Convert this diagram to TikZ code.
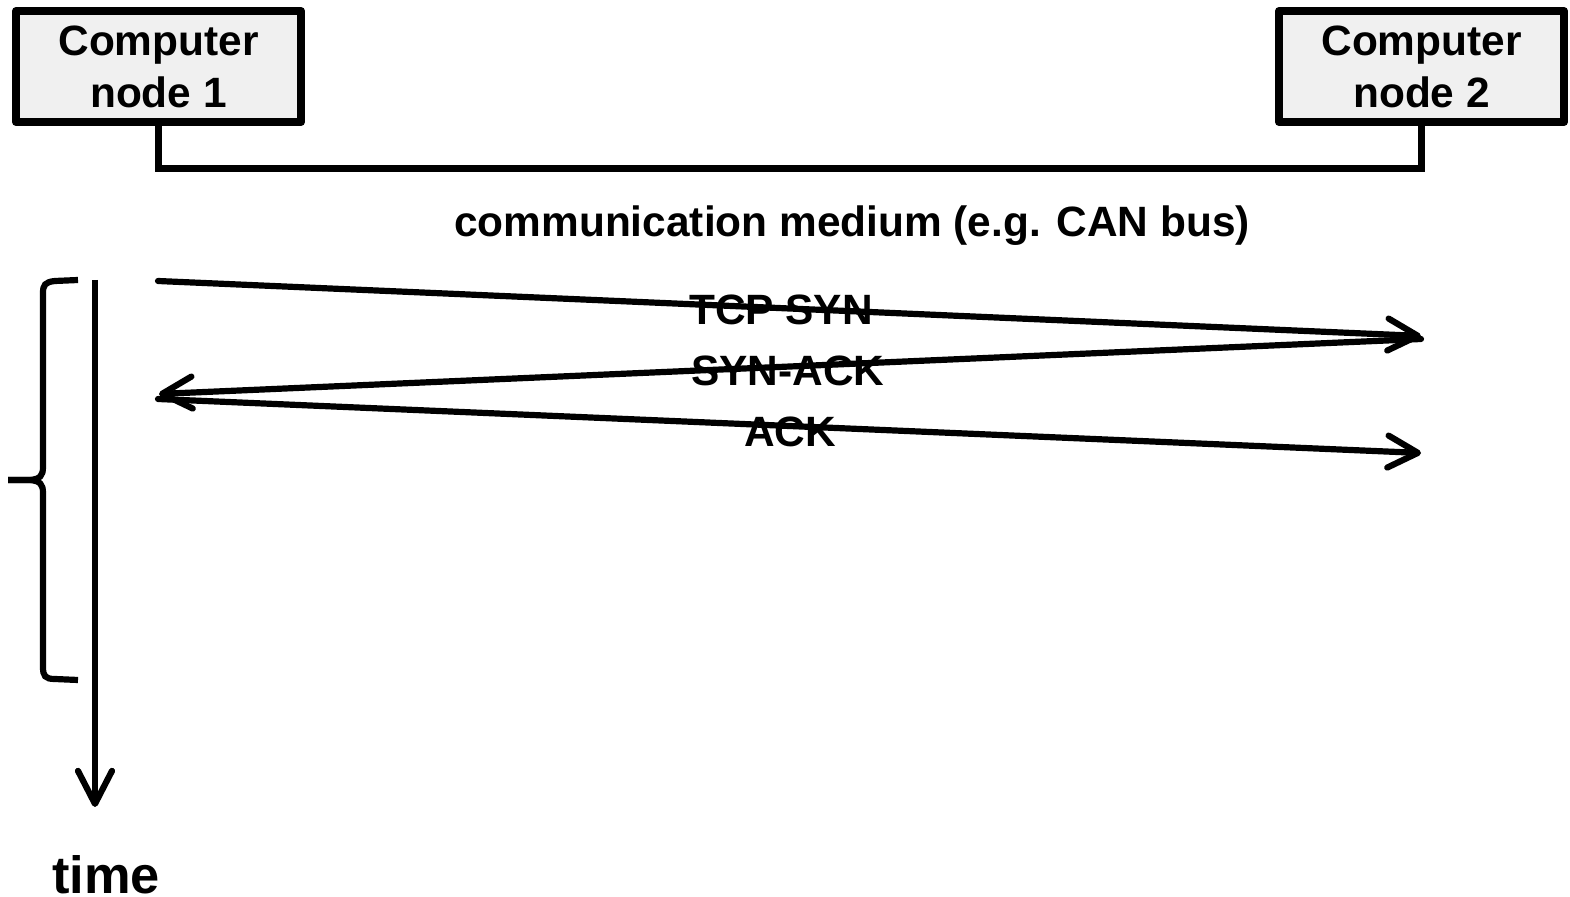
\documentclass[tikz,border=0pt]{standalone}
\usepackage{fontspec}
\setmainfont{Liberation Sans}
\usetikzlibrary{arrows.meta}
\definecolor{boxfill}{HTML}{F0F0F0}
\begin{document}
\begin{tikzpicture}[x=0.5pt,y=-0.5pt,
  line width=3.1pt,
  compbox/.style={draw, fill=boxfill, line width=4pt, line join=round, minimum width=142.5pt, minimum height=55.5pt,
    inner sep=0pt, align=center, font=\fontsize{21.2}{26}\selectfont\bfseries},
  lbl/.style={font=\fontsize{21.2}{26}\selectfont\bfseries, inner sep=0pt},
  msg/.style={line cap=round, -{Straight Barb[length=15pt,width=16pt,line cap=round,line join=round]}}]
  \useasboundingbox (0,0) rectangle (1570,897);

  % the two computer nodes
  \node[compbox] (n1) at (158.5,66.5) {Computer\\node 1};
  \node[compbox] (n2) at (1421.5,66.5) {Computer\\node 2};

  % shared bus between them
  \coordinate (b1) at (n1.south |- 0,169);
  \coordinate (b2) at (n2.south |- 0,169);
  \draw[line width=3.5pt, line join=miter] (n1.south) -- (b1) -- (b2) -- (n2.south);
  \node[lbl] (medium) at (852,226) {communication medium (e.g. CAN bus)};

  % end points of the handshake messages
  \coordinate (s1) at (158,281);
  \coordinate (r1) at (1421,336);
  \coordinate (s2) at (1421,339);
  \coordinate (r2) at (159,394);
  \coordinate (s3) at (158,399);
  \coordinate (r3) at (1421,453);
  \draw[msg] (s1) -- (r1);
  \draw[msg] (s2) -- (r2);
  \draw[msg] (s3) -- (r3);
  \node[lbl] (syn) at (781,310) {TCP SYN};
  \node[lbl] (synack) at (788,371) {SYN-ACK};
  \node[lbl] (ack) at (790,432) {ACK};

  % time axis
  \coordinate (t0) at (95,280);
  \coordinate (t1) at (95,807);
  \draw[-{Straight Barb[length=16.5pt,width=17pt,line cap=round,line join=round]}] (t0) -- (t1);
  \node[font=\fontsize{26.2}{30}\selectfont\bfseries, inner sep=0pt] (time) at (106,875) {time};

  % brace spanning the handshake
  \draw[line cap=butt]
    (78,280) -- (55,281) .. controls (45,282) and (43,285) .. (43,293)
    -- (43,467) .. controls (43,476) and (40,479) .. (30,480) -- (8,480);
  \draw[line cap=butt]
    (8,480) -- (30,480) .. controls (40,481) and (43,484) .. (43,493)
    -- (43,667) .. controls (43,676) and (45,679) .. (55,679) -- (78,680);
\end{tikzpicture}
\end{document}
